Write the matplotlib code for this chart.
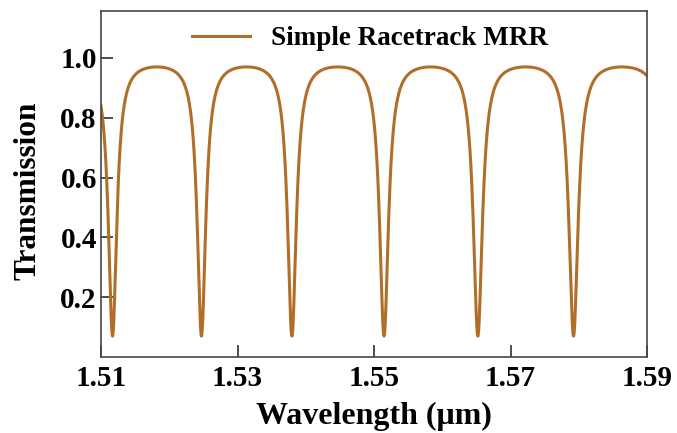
import numpy as np
import matplotlib
matplotlib.use('Agg')  # Non-GUI backend
import matplotlib.pyplot as plt

# resonance dips of the racetrack ring (um)
resonance_um = [1.5117, 1.5247, 1.5380, 1.5514, 1.5653, 1.5792]
t_max = 0.97   # off-resonance transmission
t_min = 0.07   # on-resonance transmission
x_ticks = [1.51, 1.53, 1.55, 1.57, 1.59]
y_ticks = [0.2, 0.4, 0.6, 0.8, 1.0]
line_color = '#B26E29'

# all-pass ring: recover self-coupling r and round-trip amplitude a from the extinction
M, m = t_max, t_min
p = np.roots([M - m, 2 * M + 2 * m - 4, M - m])
p = p[p < 1][0].real  # product a*r
s = np.sqrt(M) * (1 + p)
d = np.sqrt(m) * (1 - p)
r, a = (s + d) / 2, (s - d) / 2

wl = np.linspace(1.51, 1.59, 6000)
# mode order vs wavelength, smooth through the resonance positions
order_fit = np.polyfit(resonance_um, np.arange(len(resonance_um)), 2)
phi = 2 * np.pi * np.polyval(order_fit, wl)
trans = (a**2 + r**2 - 2 * a * r * np.cos(phi)) / (1 + (a * r)**2 - 2 * a * r * np.cos(phi))

plt.rcParams['font.family'] = 'Liberation Serif'
plt.rcParams['font.weight'] = 'bold'

fig = plt.figure(figsize=(6.77, 4.33), dpi=100)
ax = fig.add_axes([0.1492, 0.1755, 0.8065, 0.7991])

ax.plot(wl, trans, color=line_color, linewidth=2.2, label='Simple Racetrack MRR')

ax.set_xlim(1.51, 1.59)
ax.set_ylim(0, 1.157)
ax.set_xticks(x_ticks)
ax.set_xticklabels([f'{v:.2f}' for v in x_ticks])
ax.set_yticks(y_ticks)
ax.set_yticklabels([f'{v:.1f}' for v in y_ticks])

for sp in ax.spines.values():
    sp.set_color('#454545')
    sp.set_linewidth(1.2)
ax.tick_params(axis='both', direction='in', length=8.5, width=1.2, color='#303030',
               labelsize=21)
ax.tick_params(axis='x', pad=6)
ax.tick_params(axis='y', pad=3)

ax.set_xlabel('Wavelength (\u03bcm)', fontsize=23, fontweight='bold', labelpad=7)
ax.set_ylabel('Transmission', fontsize=22.5, fontweight='bold')
ax.yaxis.set_label_coords(-0.108, 0.48)

ax.legend(loc='center left', bbox_to_anchor=(0.167, 0.92), frameon=False,
          fontsize=19.5, handlelength=2.15, handletextpad=0.75,
          borderpad=0, borderaxespad=0)

plt.savefig('out.png', dpi=100)
